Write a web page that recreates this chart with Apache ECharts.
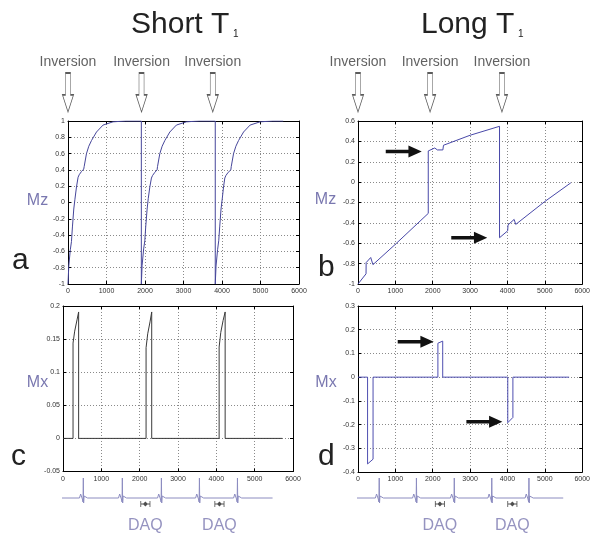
<!DOCTYPE html>
<html><head><meta charset="utf-8">
<script src="https://cdn.jsdelivr.net/npm/echarts@6/dist/echarts.min.js"></script>
<style>html,body{margin:0;padding:0;background:#fff}#c{width:593px;height:535px}</style>
</head><body><div id="c"></div>
<script>
// ---- Data ----
// Panel a: Mz, short T1
const shortMzTime  = [0,20,60,90,115,150,180,220,262,290,350,408,420,480,540,610,740,910,1170,1500,1905,
                      1905,1925,1965,1995,2020,2055,2085,2125,2167,2195,2255,2314,2325,2385,2445,2515,2645,2815,3075,3405,3825,
                      3825,3845,3885,3915,3940,3975,4005,4040,4073,4100,4160,4230,4240,4300,4360,4430,4560,4730,4990,5320,5590];
const shortMzValue = [-1,-0.78,-0.58,-0.48,-0.30,-0.08,0.04,0.19,0.31,0.34,0.38,0.41,0.44,0.60,0.69,0.76,0.865,0.95,0.99,1.0,1.0,
                      -1,-0.77,-0.57,-0.47,-0.29,-0.08,0.05,0.19,0.30,0.33,0.37,0.40,0.44,0.60,0.69,0.76,0.865,0.95,0.99,1.0,1.0,
                      -1,-0.78,-0.58,-0.47,-0.30,-0.08,0.04,0.19,0.30,0.33,0.37,0.40,0.44,0.60,0.69,0.76,0.865,0.95,0.99,1.0,1.0];
// Panel b: Mz, long T1
const longMzTime  = [0,215,218,340,400,1000,1880,1880,2054,2124,2271,2288,3000,3787,3787,4005,4015,4178,4221,5000,5695];
const longMzValue = [-1,-0.90,-0.79,-0.74,-0.81,-0.61,-0.307,0.306,0.335,0.316,0.316,0.362,0.46,0.548,-0.546,-0.478,-0.42,-0.366,-0.415,-0.19,-0.007];
// Panel c: Mx, short T1
const shortMxTime  = [0,262,262,305,366,408,408,2167,2167,2210,2270,2314,2314,4073,4073,4116,4176,4230,4230,5720];
const shortMxValue = [0,0,0.144,0.162,0.179,0.191,0,0,0.137,0.158,0.176,0.191,0,0,0.138,0.16,0.178,0.191,0,0];
// Panel d: Mx, long T1
const longMxTime  = [0,256,256,403,403,2138,2138,2267,2267,4008,4008,4145,4145,5650];
const longMxValue = [0,0,-0.366,-0.346,0,0,0.143,0.152,0,0,-0.192,-0.17,0,0];
// Annotations
const shortInversions = [0,1910,3760];
const longInversions  = [0,1880,3755];
const longMzArrows = [[1706,0.30],[3459,-0.546]];
const longMxArrows = [[2026,0.149],[3864,-0.188]];
const ecgBeatsShort = [-514,530,1548,2567,3559,4551];
const ecgBeatsLong  = [-451,556,1531,2523,3505,4479];
const ecgRangeShort = [-619,5467];
const ecgRangeLong  = [-572,5377];
const ecgShapeDt  = [-100,-70,-45,-25,-8,0,8,20,40,70,110];
const ecgShapeAmp = [0,0.2,0.25,-0.05,-0.2,1,-0.25,0.1,0,0.1,0];
const daqShort = [2149,4081];
const daqLong  = [2146,4044];

// ---- Build chart ----
const FONT = '"Liberation Sans", Arial, sans-serif';
const LBL = '#7a78b0';
const pair = (t,v)=>t.map((x,k)=>[x,v[k]]);
function ecg(beats, range){
  const d=[[range[0],0]];
  beats.forEach(b=>ecgShapeDt.forEach((dt,k)=>d.push([b+dt,ecgShapeAmp[k]])));
  d.push([range[1],0]);
  return d;
}
const panels = [
  {left:68, top:121, width:231, height:163, yMin:-1, yMax:1, yInt:0.2, data:pair(shortMzTime,shortMzValue), color:'#46469a'},
  {left:358, top:121, width:230, height:163, yMin:-1, yMax:0.6, yInt:0.2, data:pair(longMzTime,longMzValue), color:'#4848a8', arrows:longMzArrows},
  {left:63, top:306, width:230, height:165.5, yMin:-0.05, yMax:0.2, yInt:0.05, data:pair(shortMxTime,shortMxValue), color:'#3a3a3a'},
  {left:358, top:306, width:229, height:166, yMin:-0.4, yMax:0.3, yInt:0.1, data:pair(longMxTime,longMxValue), color:'#4e4eb0', arrows:longMxArrows}
];
const grids=[], xAxes=[], yAxes=[], series=[];
const arrowPath = 'path://M0 35 L63 35 L63 0 L100 50 L63 100 L63 65 L0 65 Z';
const hollowPath = 'path://M27 0 L73 0 L73 56 L100 56 L50 100 L0 56 L27 56 Z';
const daqPath = 'path://M0 0 L8 0 L8 26 L30 26 L50 5 L70 26 L92 26 L92 0 L100 0 L100 60 L92 60 L92 34 L70 34 L50 55 L30 34 L8 34 L8 60 L0 60 Z';
panels.forEach((p,i)=>{
  grids.push({left:p.left, top:p.top, width:p.width, height:p.height});
  const axLine={show:true, onZero:false, lineStyle:{color:'#000', width:1}};
  const tick={show:true, inside:true, length:3, lineStyle:{color:'#000'}};
  const split={show:true, lineStyle:{type:[1,2], color:'#8a8a8a', width:1}};
  xAxes.push({type:'value', gridIndex:i, min:0, max:6000, interval:1000, position:'bottom',
    axisLine:axLine, axisTick:tick, splitLine:split,
    axisLabel:{fontSize:7, color:'#333', margin:4, fontFamily:FONT, formatter:v=>String(v)}});
  xAxes.push({type:'value', gridIndex:i, min:0, max:6000, interval:1000, position:'top',
    axisLine:axLine, axisTick:tick, splitLine:{show:false}, axisLabel:{show:false}});
  yAxes.push({type:'value', gridIndex:i, min:p.yMin, max:p.yMax, interval:p.yInt, position:'left',
    axisLine:axLine, axisTick:tick, splitLine:split,
    axisLabel:{fontSize:7, color:'#333', margin:3, fontFamily:FONT}});
  yAxes.push({type:'value', gridIndex:i, min:p.yMin, max:p.yMax, interval:p.yInt, position:'right',
    axisLine:axLine, axisTick:tick, splitLine:{show:false}, axisLabel:{show:false}});
  const s={type:'line', xAxisIndex:2*i, yAxisIndex:2*i, data:p.data, symbol:'none', z:5,
    lineStyle:{color:p.color, width:1}, silent:true, animation:false};
  if(p.arrows){
    s.markPoint={symbol:arrowPath, symbolSize:[36,12], symbolOffset:[-18,0], silent:true, animation:false,
      itemStyle:{color:'#111'}, label:{show:false}, data:p.arrows.map(c=>({coord:c}))};
  }
  series.push(s);
});
// extra grids: inversion arrows (a,b) and ECG strips (c,d)
const extra = [
  {left:68, top:73, width:231, height:39, kind:'inv', pts:shortInversions},
  {left:358, top:73, width:230, height:39, kind:'inv', pts:longInversions},
  {left:63, top:478, width:230, height:40, kind:'ecg', beats:ecgBeatsShort, range:ecgRangeShort, daq:daqShort},
  {left:358, top:478, width:229, height:40, kind:'ecg', beats:ecgBeatsLong, range:ecgRangeLong, daq:daqLong}
];
extra.forEach((e,k)=>{
  const gi = grids.length;
  grids.push({left:e.left, top:e.top, width:e.width, height:e.height});
  const xi = xAxes.length, yi = yAxes.length;
  xAxes.push({type:'value', gridIndex:gi, min:0, max:6000, show:false});
  if(e.kind==='inv'){
    yAxes.push({type:'value', gridIndex:gi, min:0, max:1, show:false});
    series.push({type:'scatter', xAxisIndex:xi, yAxisIndex:yi, clip:false, silent:true, animation:false,
      data:e.pts.map(t=>[t,0.5]), symbol:hollowPath, symbolSize:[11,39],
      itemStyle:{color:'#fff', borderColor:'#333', borderWidth:1},
      label:{show:true, position:'top', distance:3, formatter:'Inversion', fontSize:14, color:'#3a3a3a', fontFamily:FONT}});
  } else {
    yAxes.push({type:'value', gridIndex:gi, min:-1, max:1, show:false});
    series.push({type:'line', xAxisIndex:xi, yAxisIndex:yi, clip:false, silent:true, animation:false,
      data:ecg(e.beats,e.range), symbol:'none', lineStyle:{color:'#8c8cc0', width:1}});
    series.push({type:'scatter', xAxisIndex:xi, yAxisIndex:yi, clip:false, silent:true, animation:false,
      data:e.daq.map(t=>[t,-0.3]), symbol:daqPath, symbolSize:[10,6], itemStyle:{color:'#222'},
      label:{show:true, position:'bottom', distance:11, formatter:'DAQ', fontSize:16, color:LBL, fontFamily:FONT}});
  }
});
const txt=(text,x,y,size,fill,align)=>({type:'text', x:x, y:y, silent:true,
  style:{text:text, fontSize:size, fontFamily:FONT, fill:fill, align:align||'left', verticalAlign:'middle'}});
const graphic = [
  txt('Short T',131,25,30,'#222'), txt('1',233,34,10,'#222'),
  txt('Long T',421,25,30,'#222'), txt('1',518,34,10,'#222'),
  txt('Mz',37.5,201,16,LBL,'center'), txt('Mz',325.5,200,16,LBL,'center'),
  txt('Mx',37.5,383,16,LBL,'center'), txt('Mx',326,383,16,LBL,'center'),
  txt('a',12,261,30,'#222'), txt('b',318,268,30,'#222'),
  txt('c',11,457,30,'#222'), txt('d',318,457,30,'#222')
];
const chart = echarts.init(document.getElementById('c'));
chart.setOption({animation:false, backgroundColor:'#fff', grid:grids, xAxis:xAxes, yAxis:yAxes, series:series, graphic:graphic});
</script></body></html>
